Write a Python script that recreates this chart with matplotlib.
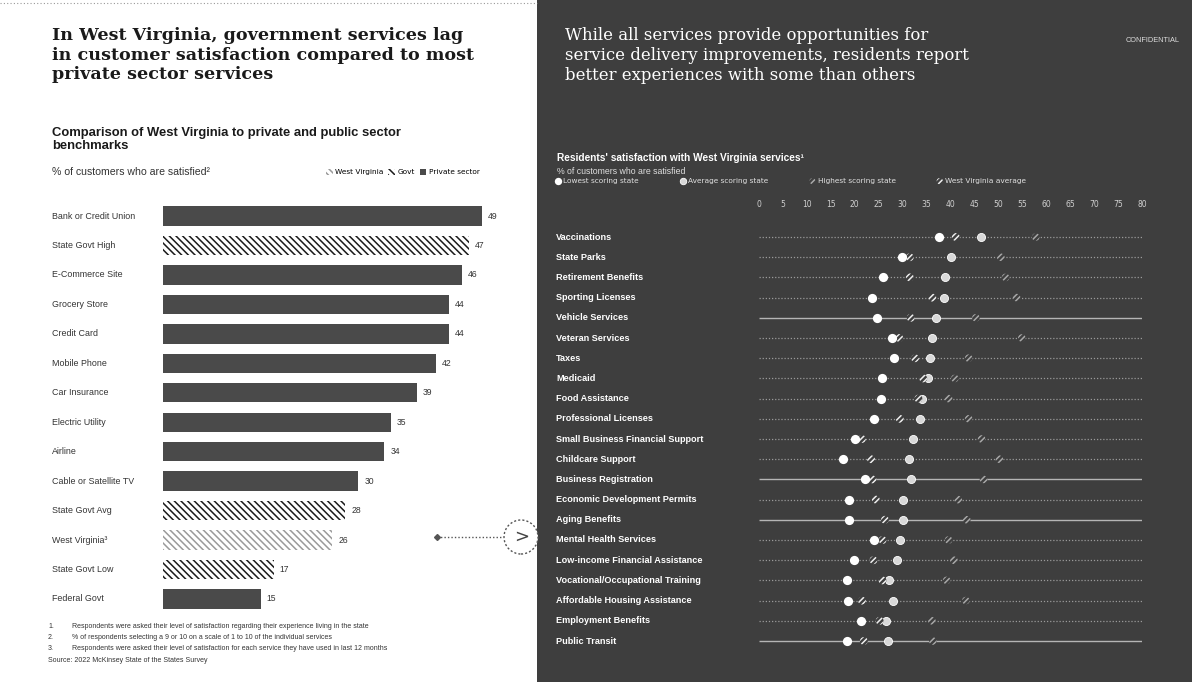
import numpy as np
import matplotlib.pyplot as plt
import matplotlib.transforms as mtransforms
from matplotlib.patches import Rectangle, Ellipse, Patch
from matplotlib.lines import Line2D

W, H = 1192, 682

# left panel: benchmarks
bench_labels = ["Bank or Credit Union", "State Govt High", "E-Commerce Site", "Grocery Store",
                "Credit Card", "Mobile Phone", "Car Insurance", "Electric Utility", "Airline",
                "Cable or Satellite TV", "State Govt Avg", "West Virginia\u00b3", "State Govt Low",
                "Federal Govt"]
bench_values = [49, 47, 46, 44, 44, 42, 39, 35, 34, 30, 28, 26, 17, 15]
bench_kind = ["private", "govt", "private", "private", "private", "private", "private",
              "private", "private", "private", "govt", "wv", "govt", "private"]

# right panel: services
services = ["Vaccinations", "State Parks", "Retirement Benefits", "Sporting Licenses",
            "Vehicle Services", "Veteran Services", "Taxes", "Medicaid", "Food Assistance",
            "Professional Licenses", "Small Business Financial Support", "Childcare Support",
            "Business Registration", "Economic Development Permits", "Aging Benefits",
            "Mental Health Services", "Low-income Financial Assistance",
            "Vocational/Occupational Training", "Affordable Housing Assistance",
            "Employment Benefits", "Public Transit"]
lowest = [37.6, 29.9, 25.8, 23.6, 24.6, 27.7, 28.3, 25.6, 25.4, 24.1, 20.0, 17.5, 22.1, 18.8,
          18.9, 24.1, 19.9, 18.3, 18.6, 21.3, 18.4]
wv_avg = [41.1, 31.5, 31.5, 36.2, 31.7, 29.3, 32.6, 34.3, 33.3, 29.4, 21.5, 23.4, 23.7, 24.4,
          26.3, 25.8, 23.9, 25.8, 21.5, 25.2, 21.9]
average = [46.3, 40.0, 38.8, 38.6, 36.9, 36.1, 35.8, 35.2, 34.0, 33.7, 32.1, 31.4, 31.7, 30.1,
           30.0, 29.4, 28.8, 27.2, 28.0, 26.5, 27.0]
highest = [57.8, 50.5, 51.5, 53.8, 45.3, 54.9, 43.8, 40.9, 39.6, 43.8, 46.5, 50.2, 46.9, 41.6,
           43.4, 39.6, 40.7, 39.2, 43.2, 36.1, 36.3]
x_ticks = list(range(0, 81, 5))

DARK = "#3e3e3e"
plt.rcParams["hatch.linewidth"] = 1.1
HATCH = "\\\\\\\\\\"

fig = plt.figure(figsize=(W / 100, H / 100), dpi=100)
fig.patch.set_facecolor("white")
fig.patches.append(Rectangle((537 / W, 0), 1 - 537 / W, 1, transform=fig.transFigure,
                             facecolor=DARK, edgecolor="none", zorder=-10))
fig.add_artist(Line2D([0, 537 / W], [1 - 3 / H] * 2, transform=fig.transFigure,
                      ls=(0, (1, 2)), color="#999", lw=0.8))

# ---- left panel ----
fig.text(52 / W, 1 - 27 / H,
         "In West Virginia, government services lag\nin customer satisfaction compared to most\nprivate sector services",
         family="DejaVu Serif", weight="bold", fontsize=12.6, color="#1a1a1a",
         va="top", ha="left", linespacing=1.2)
fig.text(52 / W, 1 - 127 / H, "Comparison of West Virginia to private and public sector\nbenchmarks",
         family="Liberation Sans", weight="bold", fontsize=9.4, color="#1a1a1a",
         va="top", ha="left", linespacing=1.15)
fig.text(52 / W, 1 - 172 / H, "% of customers who are satisfied\u00b2", family="Liberation Sans",
         fontsize=7.6, color="#333", va="center", ha="left")

ax1 = fig.add_axes([163 / W, 1 - 613.7 / H, 338.5 / W, 412.4 / H])
ax1.set_facecolor("none")
ypos = np.arange(len(bench_values))
styles = {
    "private": dict(facecolor="#4a4a4a", edgecolor="#4a4a4a", hatch=None),
    "govt": dict(facecolor="white", edgecolor="#1a1a1a", hatch=HATCH),
    "wv": dict(facecolor="white", edgecolor="#9a9a9a", hatch=HATCH),
}
bars = ax1.barh(ypos, bench_values, height=0.66, linewidth=0)
for b, k in zip(bars, bench_kind):
    st = styles[k]
    b.set_facecolor(st["facecolor"])
    b.set_edgecolor(st["edgecolor"])
    b.set_hatch(st["hatch"])
trans1 = mtransforms.blended_transform_factory(fig.transFigure, ax1.transData)
for i, (lab, v) in enumerate(zip(bench_labels, bench_values)):
    ax1.text(v + 0.9, i, str(v), va="center", ha="left", fontsize=6.2, color="#333",
             family="Liberation Sans")
    ax1.text(52 / W, i, lab, transform=trans1, va="center", ha="left", fontsize=6.4,
             color="#333", family="Liberation Sans")
ax1.set_xlim(0, 52)
ax1.set_ylim(13.5, -0.5)
ax1.axis("off")

fig.legend(handles=[Patch(facecolor="white", edgecolor="#9a9a9a", hatch=HATCH, lw=0),
                    Patch(facecolor="white", edgecolor="#1a1a1a", hatch=HATCH, lw=0),
                    Patch(facecolor="#4a4a4a", edgecolor="#4a4a4a", lw=0)],
           labels=["West Virginia", "Govt", "Private sector"],
           loc="center left", bbox_to_anchor=(326 / W, 1 - 172 / H), ncol=3,
           frameon=False, fontsize=5.3, handlelength=0.9, handleheight=1.0,
           handletextpad=0.3, columnspacing=0.7, borderpad=0, borderaxespad=0)

notes = ["Respondents were asked their level of satisfaction regarding their experience living in the state",
         "% of respondents selecting a 9 or 10 on a scale of 1 to 10 of the individual services",
         "Respondents were asked their level of satisfaction for each service they have used in last 12 months"]
for k, n in enumerate(notes):
    yy = 1 - (627 + 10.5 * k) / H
    fig.text(48 / W, yy, f"{k + 1}.", fontsize=5, color="#333", va="center", family="Liberation Sans")
    fig.text(72 / W, yy, n, fontsize=5, color="#333", va="center", family="Liberation Sans")
fig.text(48 / W, 1 - 660 / H, "Source: 2022 McKinsey State of the States Survey", fontsize=5,
         color="#333", va="center", family="Liberation Sans")

# connector arrow
yc = 1 - 537 / H
fig.add_artist(Line2D([437 / W, 503 / W], [yc, yc], transform=fig.transFigure,
                      ls=(0, (1, 1.5)), color="#555", lw=1))
fig.add_artist(Line2D([437 / W], [yc], transform=fig.transFigure, marker="D", ms=3,
                      color="#555", ls="none"))
fig.add_artist(Ellipse((521 / W, yc), 34 / W, 34 / H, transform=fig.transFigure,
                       facecolor="white", edgecolor="#555", ls=(0, (1.5, 1.5)), lw=1, zorder=3))
fig.text(522 / W, yc, ">", fontsize=13, color="#444", ha="center", va="center", zorder=4,
         family="DejaVu Sans")

# ---- right panel ----
fig.text(565 / W, 1 - 27 / H,
         "While all services provide opportunities for\nservice delivery improvements, residents report\nbetter experiences with some than others",
         family="DejaVu Serif", fontsize=11.9, color="white", va="top", ha="left", linespacing=1.22)
fig.text(1180 / W, 1 - 40 / H, "CONFIDENTIAL", fontsize=5.3, color="#ddd", ha="right",
         va="center", family="Liberation Sans")
fig.text(557 / W, 1 - 158 / H, "Residents' satisfaction with West Virginia services\u00b9",
         family="Liberation Sans", weight="bold", fontsize=7.3, color="white", va="center")
fig.text(557 / W, 1 - 171 / H, "% of customers who are satisfied", family="Liberation Sans",
         fontsize=6.3, color="#ddd", va="center")

ax2 = fig.add_axes([759 / W, 1 - 651.1 / H, 383 / W, 424.2 / H])
ax2.set_facecolor("none")
rows = np.arange(len(services))
solid_rows = {"Vehicle Services", "Business Registration", "Aging Benefits", "Public Transit"}
for i, s in enumerate(services):
    if s in solid_rows:
        ax2.hlines(i, 0, 80, color="#b5b5b5", lw=1.0, zorder=1)
    else:
        ax2.hlines(i, 0, 80, color="#9a9a9a", lw=0.9, ls=(0, (1, 1.5)), zorder=1)
sc_hi = ax2.scatter(highest, rows, s=30, facecolors=DARK, edgecolors="#a8a8a8",
                    hatch="//////", linewidths=0, zorder=2, label="Highest scoring state")
sc_avg = ax2.scatter(average, rows, s=34, facecolors="#d8d8d8", edgecolors="white",
                     linewidths=0.6, zorder=3, label="Average scoring state")
sc_wv = ax2.scatter(wv_avg, rows, s=32, facecolors=DARK, edgecolors="#eeeeee",
                    hatch="//////", linewidths=0, zorder=4, label="West Virginia average")
sc_lo = ax2.scatter(lowest, rows, s=44, facecolors="white", edgecolors="white",
                    linewidths=0, zorder=5, label="Lowest scoring state")
trans2 = mtransforms.blended_transform_factory(fig.transFigure, ax2.transData)
for i, s in enumerate(services):
    ax2.text(556 / W, i, s, transform=trans2, va="center", ha="left", fontsize=6.6,
             color="white", weight="bold", family="Liberation Sans")
ax2.set_xlim(0, 80)
ax2.set_ylim(20.5, -0.5)
ax2.xaxis.tick_top()
ax2.set_xticks(x_ticks)
ax2.set_yticks([])
ax2.tick_params(axis="x", length=0, pad=13, labelsize=5.5, labelcolor="#d0d0d0")
for sp in ax2.spines.values():
    sp.set_visible(False)

fig.legend(handles=[sc_lo, sc_avg, sc_hi, sc_wv],
           labels=["Lowest scoring state", "Average scoring state",
                   "Highest scoring state", "West Virginia average"],
           loc="center left", bbox_to_anchor=(555 / W, 1 - 181 / H), ncol=4,
           frameon=False, fontsize=5.3, labelcolor="#e0e0e0", scatterpoints=1,
           handlelength=0.8, handletextpad=0.3, columnspacing=5.6,
           borderpad=0, borderaxespad=0, markerscale=0.8)

fig.savefig("out.png", dpi=100)
